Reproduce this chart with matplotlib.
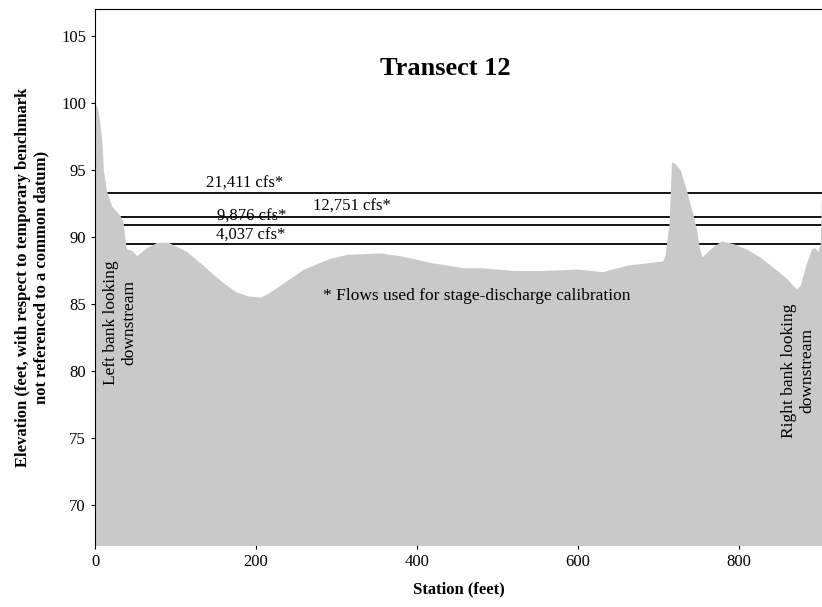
import matplotlib
matplotlib.use("Agg")
import matplotlib.pyplot as plt
import numpy as np

plt.rcParams['font.family'] = ['Liberation Serif', 'DejaVu Serif']

# ground profile (station ft, elevation ft)
station = [0, 3, 6, 9, 10.3, 14.5, 20.7, 31, 35, 37, 39, 45.5, 52, 64, 77, 91,
           114, 130, 147, 159, 175, 190, 205, 215, 230, 259, 292, 313, 354, 379,
           416, 457, 478, 520, 560, 600, 630, 662, 690, 705, 708, 713, 716, 720,
           727, 732, 735, 743, 747, 751, 754, 764, 778, 793, 809, 826, 847, 859,
           871, 876, 884, 890, 894, 898, 901, 903]
elev = [100, 99.6, 98.6, 96.8, 95.0, 93.4, 92.3, 91.6, 91.1, 89.9, 89.1, 89.0,
        88.6, 89.2, 89.6, 89.6, 88.9, 88.1, 87.2, 86.6, 85.9, 85.6, 85.5, 85.8,
        86.4, 87.6, 88.4, 88.7, 88.8, 88.6, 88.1, 87.7, 87.7, 87.5, 87.5, 87.6,
        87.4, 87.9, 88.1, 88.2, 88.6, 91.0, 95.6, 95.5, 95.0, 94.0, 93.4, 91.6,
        90.6, 89.1, 88.5, 89.1, 89.7, 89.5, 89.1, 88.5, 87.5, 86.9, 86.1, 86.4,
        88.1, 89.1, 89.2, 88.9, 89.6, 95.2]

# water surfaces
flow_labels = ["21,411 cfs*", "12,751 cfs*", "9,876 cfs*", "4,037 cfs*"]
stage = [93.28, 91.46, 90.86, 89.44]
label_x = [186, 319, 195, 193]
label_y = [93.95, 92.23, 91.48, 90.06]

fig = plt.figure(figsize=(8.22, 6.07), dpi=100)
ax = fig.add_axes([0.1156, 0.102, 0.8844, 0.883])

ax.hlines(stage, 0, 903, colors='black', linewidth=1.3, zorder=1)
ax.fill_between(station, 60, elev, color='#c9c9c9', linewidth=0, zorder=2)

for t, x, y in zip(flow_labels, label_x, label_y):
    ax.text(x, y, t, ha='center', va='center', fontsize=12, zorder=3)

ax.text(435, 102.6, "Transect 12", ha='center', va='center', fontsize=19,
        fontweight='bold', zorder=3)
ax.text(474, 85.58, "* Flows used for stage-discharge calibration",
        ha='center', va='center', fontsize=12.5, zorder=3)
ax.text(31, 83.6, "Left bank looking\ndownstream", rotation=90, ha='center',
        va='center', multialignment='center', fontsize=12.5, zorder=3)
ax.text(874, 80.0, "Right bank looking\ndownstream", rotation=90, ha='center',
        va='center', multialignment='center', fontsize=12.5, zorder=3)

ax.set_xlim(0, 903)
ax.set_ylim(67, 107)
ax.set_xticks([0, 200, 400, 600, 800])
ax.set_yticks([70, 75, 80, 85, 90, 95, 100, 105])
ax.tick_params(labelsize=12, length=3, direction='out', colors='black')
ax.spines['right'].set_visible(False)
ax.spines['bottom'].set_visible(False)

ax.set_xlabel("Station (feet)", fontsize=12, fontweight='bold', labelpad=8)
ax.set_ylabel("Elevation (feet, with respect to temporary benchmark\n"
              "not referenced to a common datum)", fontsize=12,
              fontweight='bold', labelpad=8)

fig.savefig("out.png", dpi=100)
